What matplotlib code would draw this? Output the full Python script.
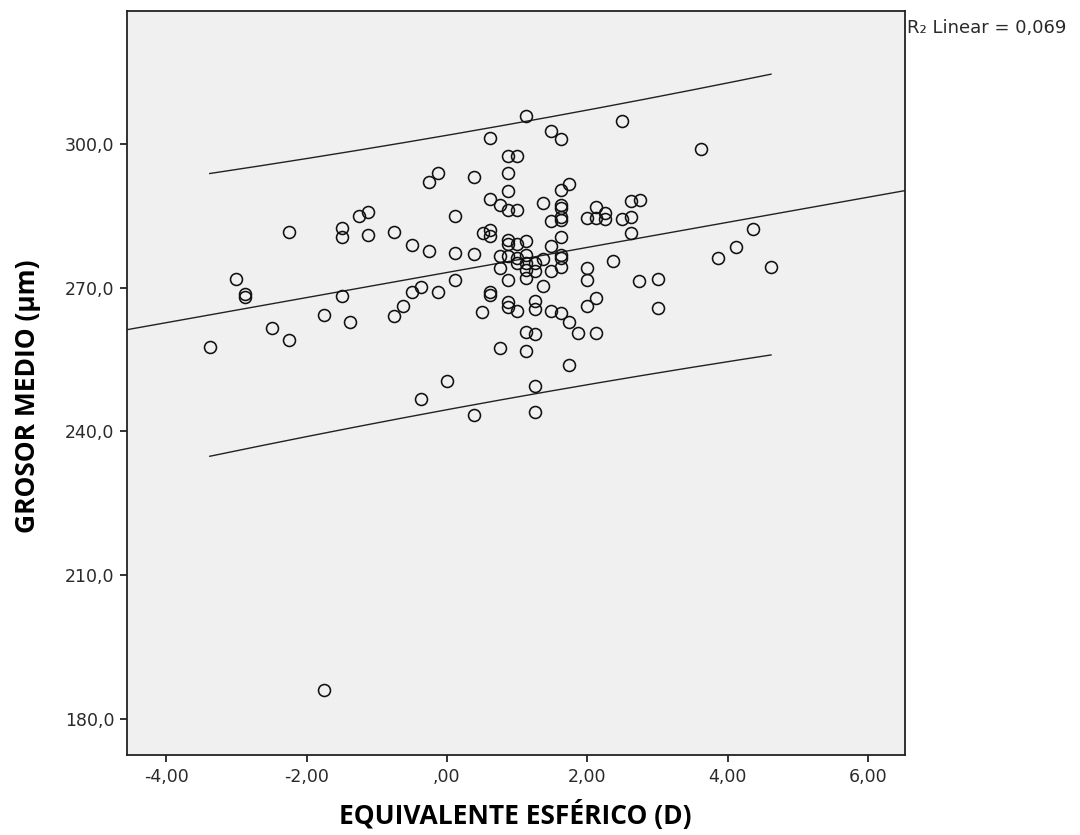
import numpy as np
import matplotlib
matplotlib.use("Agg")
import matplotlib.pyplot as plt
from matplotlib.ticker import FixedLocator, FuncFormatter

# ---- data ----
equivalente_esferico = [
    0.62, 0.87, 1.00, -0.12, -0.25, 0.38, 0.87, 0.87, 0.62, 0.75,
    0.87, 1.00, -1.13, -1.26, 0.12, -2.25, -1.50, -1.50, -1.13, -0.76,
    -0.50, -0.25, 0.12, 0.38, 0.51, 0.62, 0.62, 0.75, 0.75, 0.87,
    0.12, -0.37, -0.50, -0.12, 0.62, 0.62, 0.87, 0.87, 0.50, -0.62,
    -0.76, -1.50, -1.75, -1.38, -3.01, -2.88, -2.88, -2.50, -2.25, -3.38,
    0.75, 0.00, -0.37, 0.38, -1.75,
    1.13, 2.50, 1.49, 1.63, 3.62, 1.74, 1.63, 1.37, 1.63, 1.63,
    1.63, 1.63, 1.49, 1.99, 2.13, 2.13, 2.25, 2.25, 2.49, 2.62,
    2.62, 2.75, 2.62, 1.63, 1.49, 0.87, 0.87, 1.00, 1.13, 0.87,
    1.00, 1.13, 1.13, 1.25, 1.37, 1.63, 1.63, 1.00, 1.13, 1.25,
    1.13, 1.49, 1.63, 1.37, 1.99, 1.99, 2.37, 2.74, 3.01, 3.01,
    3.87, 4.12, 4.37, 4.62, 1.00, 1.25, 1.25, 1.49, 1.63, 1.74,
    1.87, 2.13, 1.99, 2.13, 1.13, 1.25, 1.13, 1.74, 1.25, 1.25,
]
grosor_medio = [
    301.3, 297.4, 297.4, 294.0, 292.0, 293.0, 293.9, 290.2, 288.5, 287.3,
    286.2, 286.1, 285.8, 285.0, 285.0, 281.5, 282.4, 280.5, 281.0, 281.6,
    278.8, 277.7, 277.3, 277.0, 281.4, 282.1, 280.7, 276.5, 274.1, 271.6,
    271.6, 270.1, 269.1, 269.0, 269.1, 268.5, 267.1, 265.9, 265.0, 266.1,
    264.0, 268.3, 264.3, 262.8, 271.8, 268.7, 268.1, 261.6, 259.1, 257.6,
    257.4, 250.6, 246.7, 243.5, 186.1,
    305.7, 304.7, 302.6, 301.0, 299.0, 291.6, 290.3, 287.6, 287.3, 286.6,
    284.8, 284.2, 283.8, 284.5, 286.8, 284.5, 285.5, 284.3, 284.3, 284.8,
    288.0, 288.2, 281.4, 280.5, 278.7, 280.0, 279.1, 279.1, 279.8, 276.5,
    276.2, 276.9, 275.1, 275.1, 276.0, 276.7, 276.2, 275.1, 273.7, 273.4,
    272.0, 273.5, 274.2, 270.4, 274.1, 271.6, 275.6, 271.3, 271.8, 265.7,
    276.2, 278.5, 282.2, 274.3, 265.2, 267.3, 265.6, 265.2, 264.7, 262.9,
    260.5, 267.8, 266.1, 260.6, 260.7, 260.4, 256.8, 253.8, 249.4, 244.0,
]
x_ticks = [-4, -2, 0, 2, 4, 6]
y_ticks = [180, 210, 240, 270, 300]
r2_label = "R\u2082 Linear = 0,069"
x_label = "EQUIVALENTE ESFÉRICO (D)"
y_label = "GROSOR MEDIO (μm)"
t_crit = 1.98  # Student t, 95 %, n-2 dof

# ---- figure ----
W, H = 1080, 835
fig = plt.figure(figsize=(W / 100, H / 100), dpi=100)
fig.patch.set_facecolor("white")
ax = fig.add_axes([127 / W, 1 - 755 / H, (905 - 127) / W, (755 - 11) / H])
ax.set_facecolor("#f0f0f0")

x = np.asarray(equivalente_esferico)
y = np.asarray(grosor_medio)

ax.set_xlim(-4.56, 6.53)
ax.set_ylim(172.5, 327.7)

# scatter
ax.plot(x, y, linestyle="none", marker="o", markersize=8.6,
        markerfacecolor="none", markeredgecolor="#111111",
        markeredgewidth=1.15, zorder=3)

# linear fit and 95 % individual prediction interval
slope, intercept = np.polyfit(x, y, 1)
n = len(x)
resid = y - (intercept + slope * x)
s = np.sqrt(np.sum(resid ** 2) / (n - 2))
xbar = x.mean()
sxx = np.sum((x - xbar) ** 2)

xl = np.array(ax.get_xlim())
ax.plot(xl, intercept + slope * xl, color="#222222", lw=1.0, zorder=2)

xs = np.linspace(x.min(), x.max(), 200)
half = t_crit * s * np.sqrt(1 + 1 / n + (xs - xbar) ** 2 / sxx)
fit = intercept + slope * xs
ax.plot(xs, fit + half, color="#222222", lw=1.0, zorder=2)
ax.plot(xs, fit - half, color="#222222", lw=1.0, zorder=2)

# ticks
def xfmt(v, pos):
    s_ = f"{v:.2f}".replace(".", ",")
    if s_.startswith("0,"):
        s_ = s_[1:]
    return s_

def yfmt(v, pos):
    return f"{v:.1f}".replace(".", ",")

ax.xaxis.set_major_locator(FixedLocator(x_ticks))
ax.yaxis.set_major_locator(FixedLocator(y_ticks))
ax.xaxis.set_major_formatter(FuncFormatter(xfmt))
ax.yaxis.set_major_formatter(FuncFormatter(yfmt))
ax.tick_params(axis="both", direction="out", length=5, width=1.3,
               colors="#222222", labelsize=12.5, labelcolor="#2a2a2a", pad=4)
ax.tick_params(top=False, right=False)

for sp in ax.spines.values():
    sp.set_linewidth(1.3)
    sp.set_color("#222222")

label_font = ["Liberation Sans Narrow", "Open Sans", "DejaVu Sans"]
ax.set_xlabel(x_label, fontsize=19, fontweight="bold", family=label_font,
              color="black")
ax.set_ylabel(y_label, fontsize=19, fontweight="bold", family=label_font,
              color="black")
ax.xaxis.set_label_coords((515 - 127) / 778, -(815 - 755) / 744)
ax.yaxis.set_label_coords(-(127 - 27) / 778, (755 - 396) / 744)
ax.xaxis.label.set_va("center")
ax.yaxis.label.set_va("center")

fig.text(907 / W, 1 - 28 / H, r2_label, fontsize=13, color="#2a2a2a",
         ha="left", va="center")

fig.savefig("out.png", dpi=100, facecolor="white")
